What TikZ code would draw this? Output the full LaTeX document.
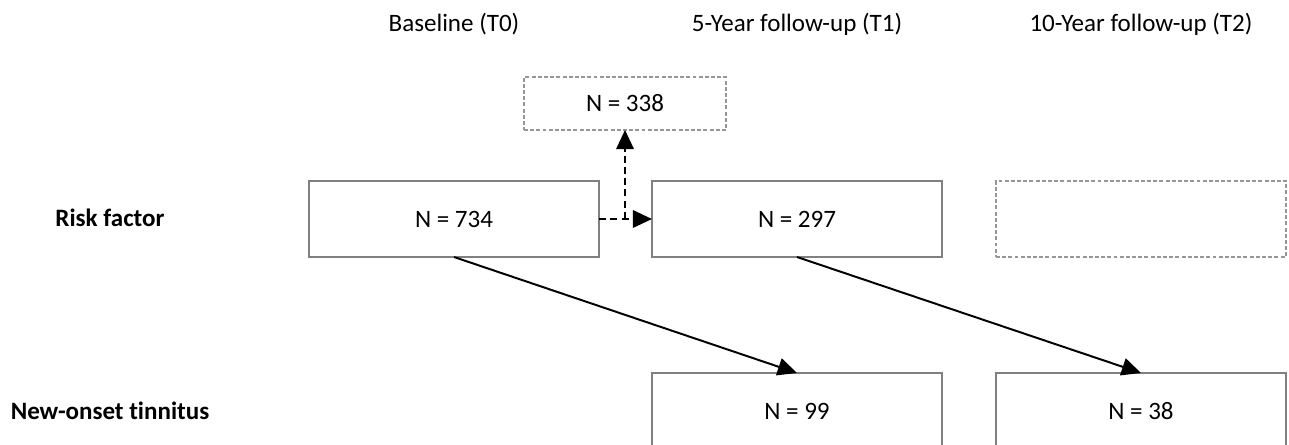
\documentclass[tikz,border=0pt]{standalone}
\usepackage{fontspec}
\setmainfont{Carlito}[Ligatures=NoCommon]
\usetikzlibrary{arrows.meta}
\definecolor{boxgray}{RGB}{128,128,128}
\definecolor{dashgray}{RGB}{150,150,150}
\tikzset{
	box/.style={draw=boxgray, line width=0.8pt, minimum width=7.25cm, minimum height=1.9cm, inner sep=0pt, outer sep=0pt},
	dashbox/.style={box, draw=dashgray, dash pattern=on 2.8pt off 1.6pt},
	flow/.style={line width=1.4pt, -{Triangle[length=0.48cm, width=0.44cm]}},
	flowdash/.style={flow, dash pattern=on 5pt off 3pt},
}

\begin{document}
\begin{tikzpicture}[x=0.025cm, y=-0.025cm, font=\fontsize{17.8}{21}\selectfont]
	\useasboundingbox (0, 0) rectangle (1289, 445);
	% Time points:
	\node[anchor=base] (t0) at (454, 32) {Baseline (T0)};
	\node[anchor=base] (t1) at (797, 32) {5-Year follow-up (T1)};
	\node[anchor=base] (t2) at (1141, 32) {10-Year follow-up (T2)};
	% Rows:
	\node[anchor=base, font=\fontsize{17.8}{21}\selectfont\bfseries] (risk) at (110, 227) {Risk factor};
	\node[anchor=base, font=\fontsize{17.8}{21}\selectfont\bfseries] (onset) at (110, 419) {New-onset tinnitus};
	% Boxes:
	\node[box] (n734) at (454, 219) {N = 734};
	\node[box] (n297) at (797, 219) {N = 297};
	\node[dashbox] (empty) at (1141, 219) {};
	\node[dashbox, minimum width=5.05cm, minimum height=1.325cm] (n338) at (625, 103.5) {N = 338};
	\node[box] (n99) at (797, 411) {N = 99};
	\node[box] (n38) at (1141, 411) {N = 38};
	% Arrows:
	\coordinate (split) at (625, 219);
	\draw[flowdash] (n734.east) -- (n297.west);
	\draw[flowdash] (split) -- (n338.south);
	\draw[flow] (n734.south) -- (n99.north);
	\draw[flow] (n297.south) -- (n38.north);
\end{tikzpicture}
\end{document}
